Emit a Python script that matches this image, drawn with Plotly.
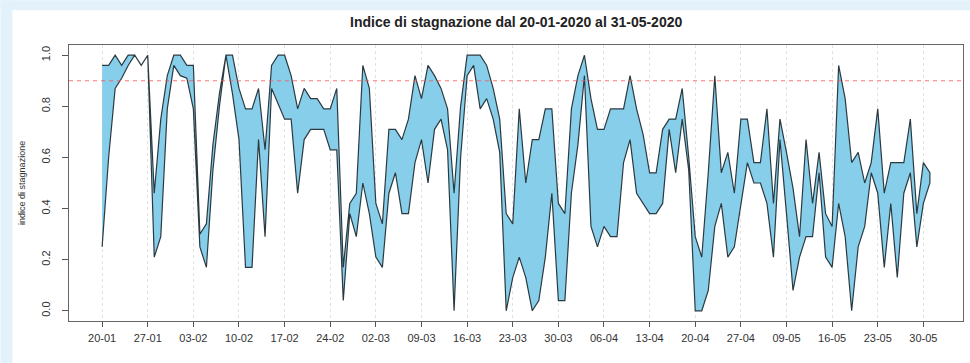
import plotly.graph_objects as go

# ---- data ----
tick_labels = ["20-01", "27-01", "03-02", "10-02", "17-02", "24-02", "02-03",
               "09-03", "16-03", "23-03", "30-03", "06-04", "13-04", "20-04",
               "27-04", "09-05", "16-05", "23-05", "30-05"]

upper = [0.96, 0.96, 1.00, 0.96, 1.00, 1.00, 0.96, 1.00,
         0.46, 0.75, 0.92, 1.00, 1.00, 0.96, 0.96,
         0.30, 0.34, 0.65, 0.85, 1.00, 1.00, 0.87, 0.79, 0.79, 0.87, 0.63,
         0.96, 1.00, 1.00, 0.92, 0.79, 0.87, 0.83, 0.83, 0.79, 0.79, 0.87,
         0.17, 0.42, 0.46, 0.96, 0.87, 0.42, 0.34, 0.71, 0.71, 0.67, 0.75,
         0.92, 0.83, 0.96, 0.92, 0.87, 0.79, 0.46, 0.80, 1.00, 1.00, 1.00,
         0.96, 0.87, 0.75, 0.38, 0.34, 0.79, 0.50, 0.67, 0.67, 0.79, 0.79,
         0.42, 0.38, 0.79, 0.92, 1.00, 0.83, 0.71, 0.71, 0.79, 0.79, 0.79,
         0.92, 0.79, 0.69, 0.54, 0.54, 0.71, 0.75, 0.75, 0.87, 0.60, 0.29,
         0.21, 0.54, 0.92, 0.54, 0.62, 0.46, 0.75, 0.75, 0.58, 0.58, 0.79,
         0.42, 0.75, 0.62, 0.48, 0.29, 0.67, 0.42, 0.62, 0.38, 0.33, 0.96,
         0.83, 0.58, 0.62, 0.50, 0.58, 0.79, 0.46, 0.58, 0.58, 0.58, 0.75,
         0.38, 0.58, 0.54]

lower = [0.25, 0.60, 0.87, 0.91, 0.96, 1.00, 0.96, 1.00,
         0.21, 0.29, 0.79, 0.96, 0.92, 0.91, 0.79,
         0.25, 0.17, 0.55, 0.80, 1.00, 0.85, 0.67, 0.17, 0.17, 0.67, 0.29,
         0.87, 0.81, 0.75, 0.75, 0.46, 0.67, 0.71, 0.71, 0.71, 0.63, 0.63,
         0.04, 0.38, 0.29, 0.50, 0.38, 0.21, 0.17, 0.46, 0.54, 0.38, 0.38,
         0.58, 0.67, 0.50, 0.71, 0.75, 0.63, 0.00, 0.60, 0.92, 0.96, 0.79,
         0.83, 0.75, 0.62, 0.00, 0.13, 0.21, 0.13, 0.00, 0.04, 0.21, 0.46,
         0.04, 0.04, 0.46, 0.65, 0.92, 0.33, 0.25, 0.33, 0.29, 0.29, 0.58,
         0.67, 0.46, 0.42, 0.38, 0.38, 0.42, 0.71, 0.54, 0.75, 0.55, 0.00,
         0.00, 0.08, 0.33, 0.42, 0.21, 0.25, 0.42, 0.58, 0.50, 0.50, 0.42,
         0.21, 0.67, 0.38, 0.08, 0.21, 0.29, 0.29, 0.54, 0.21, 0.17, 0.42,
         0.29, 0.00, 0.25, 0.33, 0.54, 0.46, 0.17, 0.42, 0.13, 0.46, 0.54,
         0.25, 0.42, 0.50]

threshold = 0.9
y_ticks = [0.0, 0.2, 0.4, 0.6, 0.8, 1.0]
y_tick_labels = ["0.0", "0.2", "0.4", "0.6", "0.8", "1.0"]

title_text = "Indice di stagnazione dal 20-01-2020 al 31-05-2020"
y_title = "indice di stagnazione"

# ---- figure ----
n = len(upper)
idx = list(range(n))
tick_pos = list(range(0, n, 7))[:len(tick_labels)]

W, H = 970, 363
ML, MR, MT, MB = 68.6, 7.1, 44.8, 42.1
PW, PH = W - ML - MR, H - MT - MB


def px_x(p):
    return (p - ML) / PW


def px_y(p):
    return (H - MB - p) / PH


fig = go.Figure()
fig.add_trace(go.Scatter(
    x=idx + idx[::-1],
    y=upper + lower[::-1],
    mode="lines",
    fill="toself",
    fillcolor="#87CEEB",
    line=dict(color="#2b3a40", width=1.2),
    hoverinfo="skip",
    showlegend=False,
))

pad_x = 0.04 * (n - 1)
fig.update_layout(
    width=W, height=H, autosize=False,
    margin=dict(l=ML, r=MR, t=MT, b=MB, pad=0),
    paper_bgcolor="white", plot_bgcolor="white",
    font=dict(family="Liberation Sans, Arial, sans-serif", color="#333"),
    showlegend=False,
    xaxis=dict(
        range=[-pad_x, n - 1 + pad_x],
        tickmode="array", tickvals=tick_pos, ticktext=tick_labels,
        ticks="outside", ticklen=5, tickcolor="#555", tickwidth=1,
        ticklabelstandoff=2,
        showgrid=True, gridcolor="#E2E2E2", griddash="3px,3px", gridwidth=1,
        showline=True, linecolor="#666", linewidth=1, mirror=True,
        zeroline=False, tickfont=dict(size=11, color="#333"),
    ),
    yaxis=dict(
        range=[-0.04, 1.04],
        tickmode="array", tickvals=y_ticks, ticktext=y_tick_labels,
        tickangle=-90,
        ticks="outside", ticklen=6, tickcolor="#555", tickwidth=1,
        ticklabelstandoff=8,
        showgrid=False,
        showline=True, linecolor="#666", linewidth=1, mirror=True,
        zeroline=False, tickfont=dict(size=11, color="#333"),
    ),
)

# threshold line
fig.add_shape(type="line", xref="paper", yref="y", x0=0, x1=1,
              y0=threshold, y1=threshold,
              line=dict(color="rgba(255,80,80,0.8)", width=1, dash="4px,4px"),
              layer="above")

# slide background strips (light blue)
fig.add_shape(type="rect", xref="paper", yref="paper",
              x0=px_x(0), x1=px_x(12), y0=px_y(H), y1=px_y(0),
              fillcolor="#E3F2FA", line=dict(width=0), layer="below")
fig.add_shape(type="rect", xref="paper", yref="paper",
              x0=px_x(0), x1=px_x(W), y0=px_y(10), y1=px_y(0),
              fillcolor="#E3F2FA", line=dict(width=0), layer="below")

# title
fig.add_annotation(text="<b>" + title_text + "</b>", xref="paper", yref="paper",
                   x=0.5, y=px_y(22), xanchor="center", yanchor="middle",
                   showarrow=False, font=dict(size=14, color="#222"))
# y axis title
fig.add_annotation(text=y_title, xref="paper", yref="paper",
                   x=px_x(21.5), y=0.5, xanchor="center", yanchor="middle",
                   textangle=-90, showarrow=False,
                   font=dict(size=9, color="#333"))

fig.write_html("out.html")
